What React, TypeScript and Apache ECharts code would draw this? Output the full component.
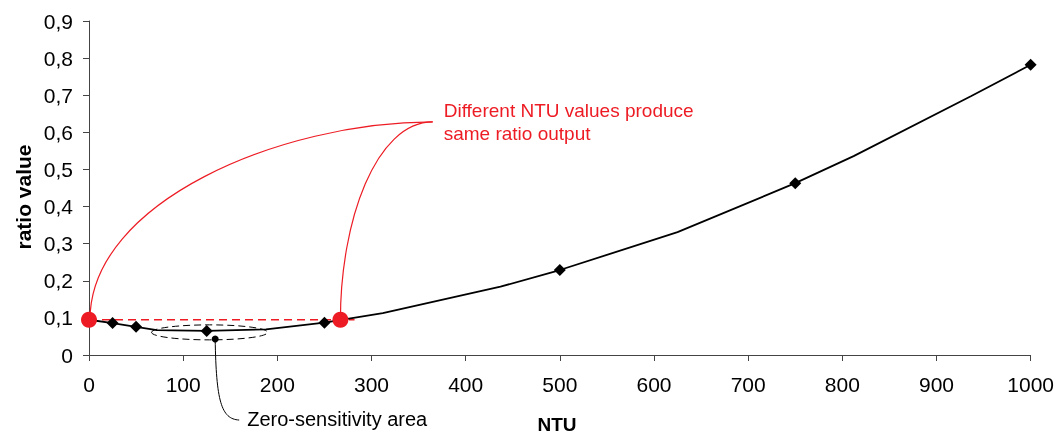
import React, { useEffect, useRef } from 'react';
import * as echarts from 'echarts';

// Curve (ratio vs NTU)
const lineNTU = [0, 25, 50, 72, 125, 188, 250, 312, 437, 500, 625, 750, 812, 937, 1000];
const lineRatio = [0.095, 0.086, 0.076, 0.067, 0.065, 0.069, 0.087, 0.113, 0.184, 0.229, 0.331, 0.463, 0.536, 0.698, 0.782];
// Diamond markers
const markerNTU = [25, 50, 125, 250, 500, 750, 1000];
const markerRatio = [0.086, 0.076, 0.065, 0.087, 0.229, 0.463, 0.782];
// Two NTU values with the same ratio
const sameNTU = [0, 267];
const sameRatio = [0.095, 0.095];
const dashEndNTU = 282;
// Zero-sensitivity area
const zeroAreaCenter = [128, 0.061];
const zeroAreaDot = [134, 0.043];
// Annotation anchor (data coords)
const labelAnchor = [365, 0.628];

const xTickLabels = ['0', '100', '200', '300', '400', '500', '600', '700', '800', '900', '1000'];
const yTickLabels = ['0', '0,1', '0,2', '0,3', '0,4', '0,5', '0,6', '0,7', '0,8', '0,9'];

const RED = '#ed1c24';
const FONT = '"Liberation Sans", Arial, sans-serif';

export default function App() {
  const ref = useRef<HTMLDivElement>(null);
  useEffect(() => {
    const chart = echarts.init(ref.current as HTMLDivElement, null, { renderer: 'svg' });
    chart.setOption({
      animation: false,
      textStyle: { fontFamily: FONT },
      grid: { left: 89, right: 26, top: 21, bottom: 80, containLabel: false },
      xAxis: {
        type: 'value',
        min: 0,
        max: 1000,
        interval: 100,
        axisLine: { show: true, lineStyle: { color: '#444', width: 1 } },
        axisTick: { show: true, length: 6, lineStyle: { color: '#444' } },
        splitLine: { show: false },
        axisLabel: {
          fontSize: 21,
          color: '#000',
          margin: 19,
          fontFamily: FONT,
          formatter: (v: number) => xTickLabels[Math.round(v / 100)] ?? '',
        },
      },
      yAxis: {
        type: 'value',
        min: 0,
        max: 0.9,
        interval: 0.1,
        axisLine: { show: true, lineStyle: { color: '#444', width: 1 } },
        axisTick: { show: true, length: 6, lineStyle: { color: '#444' } },
        splitLine: { show: false },
        axisLabel: {
          fontSize: 21,
          color: '#000',
          margin: 16,
          fontFamily: FONT,
          formatter: (v: number) => yTickLabels[Math.round(v * 10)] ?? '',
        },
      },
      series: [
        {
          type: 'line',
          data: [[sameNTU[0], sameRatio[0]], [dashEndNTU, sameRatio[1]]],
          symbol: 'none',
          lineStyle: { color: RED, width: 1.5, type: [8, 5], opacity: 1 },
          z: 1,
        },
        {
          type: 'line',
          data: lineNTU.map((x, i) => [x, lineRatio[i]]),
          symbol: 'none',
          lineStyle: { color: '#000', width: 1.8, opacity: 1 },
          z: 2,
        },
        {
          type: 'scatter',
          data: markerNTU.map((x, i) => [x, markerRatio[i]]),
          symbol: 'diamond',
          symbolSize: 12,
          itemStyle: { color: '#000', opacity: 1 },
          z: 3,
        },
        {
          type: 'scatter',
          data: sameNTU.map((x, i) => [x, sameRatio[i]]),
          symbol: 'circle',
          symbolSize: 16,
          itemStyle: { color: RED, opacity: 1 },
          z: 4,
        },
      ],
    });

    const px = (p: number[]) => chart.convertToPixel({ gridIndex: 0 }, p) as number[];
    const p0 = px([sameNTU[0], sameRatio[0]]);
    const p1 = px([sameNTU[1], sameRatio[1]]);
    const end = px(labelAnchor);
    const ec = px(zeroAreaCenter);
    const dot = px(zeroAreaDot);

    chart.setOption({
      graphic: [
        {
          type: 'bezierCurve',
          shape: { x1: p0[0] + 1, y1: p0[1], cpx1: p0[0] + 1, cpy1: p0[1] - 118, cpx2: end[0] - 152, cpy2: end[1], x2: end[0], y2: end[1] },
          style: { stroke: RED, lineWidth: 1.2, fill: 'none' },
          z: 5,
        },
        {
          type: 'bezierCurve',
          shape: { x1: p1[0], y1: p1[1], cpx1: p1[0], cpy1: p1[1] - 98, cpx2: end[0] - 57, cpy2: end[1], x2: end[0], y2: end[1] },
          style: { stroke: RED, lineWidth: 1.2, fill: 'none' },
          z: 5,
        },
        {
          type: 'text',
          x: end[0] + 11,
          y: end[1] - 23,
          style: {
            text: 'Different NTU values produce\nsame ratio output',
            fill: RED,
            font: `19px ${FONT}`,
            lineHeight: 23,
            textVerticalAlign: 'top',
          },
          z: 5,
        },
        {
          type: 'ellipse',
          shape: { cx: ec[0], cy: ec[1], rx: 58, ry: 7.5 },
          style: { fill: 'none', stroke: '#000', lineWidth: 1, lineDash: [7, 4] },
          z: 5,
        },
        {
          type: 'circle',
          shape: { cx: dot[0], cy: dot[1], r: 3.5 },
          style: { fill: '#000' },
          z: 6,
        },
        {
          type: 'bezierCurve',
          shape: { x1: dot[0], y1: dot[1], cpx1: dot[0] + 1, cpy1: dot[1] + 62, cpx2: dot[0] + 6, cpy2: dot[1] + 80, x2: dot[0] + 24, y2: dot[1] + 81 },
          style: { stroke: '#000', lineWidth: 1, fill: 'none' },
          z: 5,
        },
        {
          type: 'text',
          x: dot[0] + 32,
          y: dot[1] + 80,
          style: {
            text: 'Zero-sensitivity area',
            fill: '#000',
            font: `20px ${FONT}`,
            textVerticalAlign: 'middle',
          },
          z: 5,
        },
        {
          type: 'text',
          x: 23,
          y: 197,
          rotation: Math.PI / 2,
          style: {
            text: 'ratio value',
            fill: '#000',
            font: `bold 21px ${FONT}`,
            textAlign: 'center',
            textVerticalAlign: 'middle',
          },
          z: 5,
        },
        {
          type: 'text',
          x: 557,
          y: 424,
          style: {
            text: 'NTU',
            fill: '#000',
            font: `bold 19px ${FONT}`,
            textAlign: 'center',
            textVerticalAlign: 'middle',
          },
          z: 5,
        },
      ],
    });
    return () => chart.dispose();
  }, []);
  return <div ref={ref} style={{ position: 'fixed', left: 0, top: 0, width: 1057, height: 435 }} />;
}
